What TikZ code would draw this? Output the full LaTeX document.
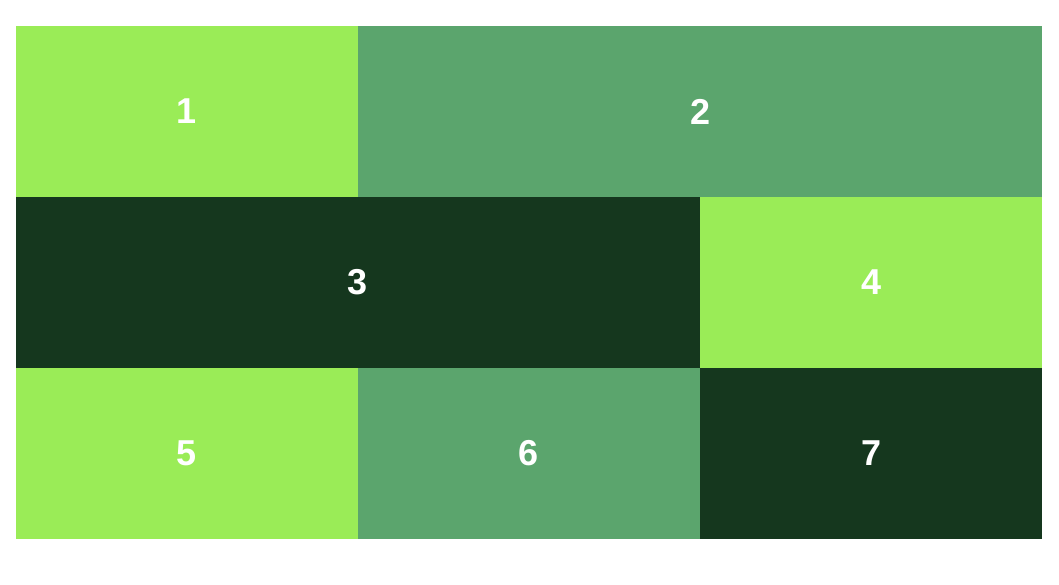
\documentclass[tikz,border=0pt]{standalone}
\usepackage{fontspec}
\setmainfont{Liberation Sans}
\usetikzlibrary{positioning}
\definecolor{lime}{HTML}{9AEC57}
\definecolor{sage}{HTML}{5BA56D}
\definecolor{forest}{HTML}{15371E}
\tikzset{
  cell/.style={rectangle,inner sep=0pt,outer sep=0pt,minimum height=171pt,
    text=white,font=\bfseries\fontsize{36}{36}\selectfont},
  one/.style={cell,minimum width=342pt},
  two/.style={cell,minimum width=684pt},
}
\begin{document}
\begin{tikzpicture}[x=1pt,y=-1pt]
  \useasboundingbox (0,0) rectangle (1059,585);
  % row 1
  \node[one,fill=lime]   (c1) at (187,111.5) {1};
  \node[two,fill=sage,right=0pt of c1] (c2) {2};
  % row 2
  \node[two,fill=forest,below=0pt of c1.south west,anchor=north west] (c3) {3};
  \node[one,fill=lime,right=0pt of c3] (c4) {4};
  % row 3
  \node[one,fill=lime,below=0pt of c3.south west,anchor=north west] (c5) {5};
  \node[one,fill=sage,right=0pt of c5]   (c6) {6};
  \node[one,fill=forest,right=0pt of c6] (c7) {7};
\end{tikzpicture}
\end{document}
